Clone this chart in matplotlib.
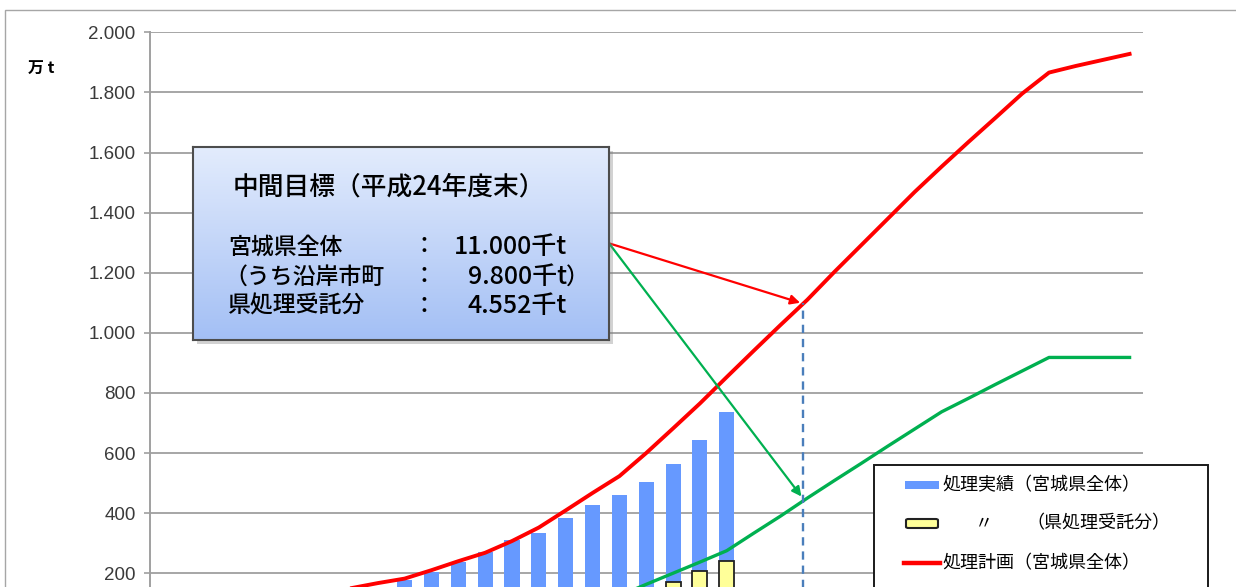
import matplotlib
matplotlib.use('Agg')
import matplotlib.pyplot as plt
import numpy as np
from matplotlib.patches import Rectangle, FancyBboxPatch
from matplotlib.lines import Line2D

plt.rcParams['font.family'] = ['Noto Sans CJK JP', 'DejaVu Sans']

# ---------------- data ----------------
months = ["H23.3", "H23.4", "H23.5", "H23.6", "H23.7", "H23.8", "H23.9", "H23.10",
          "H23.11", "H23.12", "H24.1", "H24.2", "H24.3", "H24.4", "H24.5", "H24.6",
          "H24.7", "H24.8", "H24.9", "H24.10", "H24.11", "H24.12", "H25.1", "H25.2",
          "H25.3", "H25.4", "H25.5", "H25.6", "H25.7", "H25.8", "H25.9", "H25.10",
          "H25.11", "H25.12", "H26.1", "H26.2", "H26.3"]

# 処理実績（宮城県全体）  [万t]
actual_total = [5, 12, 20, 35, 50, 70, 90, 110, 145, 177, 205, 237, 271, 310,
                333, 383, 427, 460, 505, 562, 644, 738]
# 〃（県処理受託分） [万t]
actual_pref = [0, 0, 0, 0, 0, 0, 0, 0, 0, 0, 0, 0, 15, 30, 50, 70, 90, 115, 140,
               172, 208, 242]
# 処理計画（宮城県全体） [万t]
plan_total = [0, 10, 25, 45, 70, 95, 120, 150, 167, 182, 210, 240, 268, 307, 352,
              409, 467, 523, 600, 682, 765, 853, 940, 1026, 1110, 1202, 1291, 1380,
              1469, 1553, 1635, 1715, 1796, 1866, 1888, 1908, 1928]
# 処理計画（県処理受託分） [万t]
plan_pref = [0, 0, 0, 0, 0, 0, 0, 0, 0, 0, 0, 0, 10, 25, 45, 70, 95, 125, 163, 200,
             237, 275, 333, 390, 450, 508, 565, 623, 680, 737, 782, 828, 873, 918,
             918, 918, 918]

yticks = [200, 400, 600, 800, 1000, 1200, 1400, 1600, 1800, 2000]

# 中間目標（平成24年度末） [千t]
goal_total_kt = 11000
goal_coast_kt = 9800
goal_pref_kt = 4552
goal_month = "H25.3"

# ---------------- figure ----------------
W, H = 1236, 587
fig = plt.figure(figsize=(W / 100, H / 100), dpi=100)


def fx(px):
    return px / W


def fy(py):
    return 1 - py / H


# outer frame
fig.add_artist(Rectangle((fx(5), -0.2), 1.2, fy(10) + 0.2, transform=fig.transFigure,
                         fill=False, edgecolor='#a6a6a6', lw=1.0, clip_on=False))

ax = fig.add_axes([fx(149.5), fy(633.3), (1143 - 149.5) / W, (633.3 - 32.3) / H])
x = np.arange(len(months))
ax.bar(x[:len(actual_total)], actual_total, width=0.56, color='#6699FF', zorder=2)
ax.bar(x[:len(actual_pref)], actual_pref, width=0.56, color='#FFFF99',
       edgecolor='#222222', lw=1.3, zorder=3)
ax.plot(x, plan_total, color='#FF0000', lw=2.8, zorder=4)
ax.plot(x, plan_pref, color='#00B050', lw=2.4, zorder=4)

ax.set_xlim(-0.5, len(months) - 0.5)
ax.set_ylim(0, 2000)
ax.set_xticks([])
ax.set_yticks(yticks)
ax.set_yticklabels([f"{v:,}".replace(',', '.') for v in yticks],
                   family='Liberation Sans')
ax.tick_params(axis='y', direction='out', length=4.5, width=1.2, color='#a0a0a0',
               labelcolor='#3a3a3a', labelsize=13.5, pad=5.5)
ax.yaxis.grid(True, color='#a6a6a6', lw=1.4)
ax.set_axisbelow(True)
for s in ['top', 'right', 'bottom']:
    ax.spines[s].set_visible(False)
ax.spines['left'].set_color('#a0a0a0')
ax.spines['left'].set_linewidth(1.4)

# mid-term goal marker
gi = months.index(goal_month) - 0.17
ax.vlines(gi, 0, goal_total_kt / 10, colors='#4a7ebb', linestyles=(0, (3.5, 2.5)),
          lw=1.7, zorder=5)
start = (fx(609) * W, fy(243.3) * H)
ax.annotate('', xy=(gi - 0.1, goal_total_kt / 10), xycoords='data', xytext=start,
            textcoords='figure pixels',
            arrowprops=dict(arrowstyle='-|>', color='#FF0000', lw=1.6,
                            mutation_scale=14, shrinkA=0, shrinkB=0), zorder=6)
ax.annotate('', xy=(gi - 0.05, goal_pref_kt / 10), xycoords='data', xytext=start,
            textcoords='figure pixels',
            arrowprops=dict(arrowstyle='-|>', color='#00B050', lw=1.6,
                            mutation_scale=14, shrinkA=0, shrinkB=0), zorder=6)

# unit label
fig.text(fx(28), fy(68), "万 t", fontsize=11.5, fontweight='bold', va='center',
         ha='left', color='black')

# ---------------- annotation box ----------------
bx0, by0, bx1, by1 = 193, 147, 609, 340
fig.add_artist(Rectangle((fx(bx0 + 4), fy(by1 + 4)), (bx1 - bx0) / W, (by1 - by0) / H,
                         transform=fig.transFigure, facecolor='#7f7f7f', alpha=0.35,
                         edgecolor='none', zorder=1.5))
bax = fig.add_axes([fx(bx0), fy(by1), (bx1 - bx0) / W, (by1 - by0) / H], zorder=2)
grad = np.linspace(0, 1, 256).reshape(-1, 1)
top = np.array([0.89, 0.925, 0.99])
bot = np.array([0.64, 0.75, 0.96])
img = top[None, None, :] * (1 - grad[:, :, None]) + bot[None, None, :] * grad[:, :, None]
bax.imshow(img, aspect='auto', extent=[0, 1, 0, 1], interpolation='bilinear')
bax.set_xlim(0, 1)
bax.set_ylim(0, 1)
bax.set_xticks([])
bax.set_yticks([])
for s in bax.spines.values():
    s.set_color('#4d4d4d')
    s.set_linewidth(1.5)

tk = dict(zorder=5, color='black', va='center', fontweight='medium')
fig.text(fx(233), fy(187), "中間目標（平成24年度末）", fontsize=18.5, ha='left', **tk)
fig.text(fx(228), fy(247), "宮城県全体", fontsize=16.5, ha='left', **tk)
fig.text(fx(224), fy(277), "（うち沿岸市町", fontsize=16.5, ha='left', **tk)
fig.text(fx(228), fy(306), "県処理受託分", fontsize=16.5, ha='left', **tk)
for yy in (247, 277, 306):
    fig.text(fx(424), fy(yy), "：", fontsize=16.5, ha='center', **tk)
vk = dict(fontsize=18, ha='right', **tk)
fig.text(fx(567), fy(247), f"{goal_total_kt:,}".replace(',', '.') + "千t", **vk)
fig.text(fx(567), fy(277), f"{goal_coast_kt:,}".replace(',', '.') + "千t", **vk)
fig.text(fx(566), fy(277), "）", fontsize=16.5, ha='left', **tk)
fig.text(fx(567), fy(306), f"{goal_pref_kt:,}".replace(',', '.') + "千t", **vk)

# ---------------- legend ----------------
lx0, ly0, lx1 = 874, 465, 1208
fig.add_artist(Rectangle((fx(lx0), fy(640)), (lx1 - lx0) / W, (640 - ly0) / H,
                         transform=fig.transFigure, facecolor='white',
                         edgecolor='#1a1a1a', lw=1.4, zorder=2.5, clip_on=False))
fig.add_artist(Rectangle((fx(905), fy(489)), 34 / W, 8 / H, transform=fig.transFigure,
                         facecolor='#6699FF', edgecolor='none', zorder=3))
fig.add_artist(FancyBboxPatch((fx(906), fy(528)), 32 / W, 9 / H,
                              boxstyle='round,pad=0,rounding_size=0.002',
                              transform=fig.transFigure, facecolor='#FFFF99',
                              edgecolor='#222222', lw=1.5, zorder=3))
fig.add_artist(Line2D([fx(904), fx(940)], [fy(563), fy(563)], transform=fig.transFigure,
                      color='#FF0000', lw=3.2, zorder=3))
fig.add_artist(Line2D([fx(904), fx(940)], [fy(602), fy(602)], transform=fig.transFigure,
                      color='#00B050', lw=3.2, zorder=3))
lk = dict(fontsize=13, va='center', ha='left', zorder=4, color='black')
fig.text(fx(942), fy(485), "処理実績（宮城県全体）", **lk)
fig.text(fx(975), fy(523), "〃", **lk)
fig.text(fx(1026), fy(523), "（県処理受託分）", **lk)
fig.text(fx(942), fy(563), "処理計画（宮城県全体）", **lk)

fig.savefig('out.png', dpi=100)
